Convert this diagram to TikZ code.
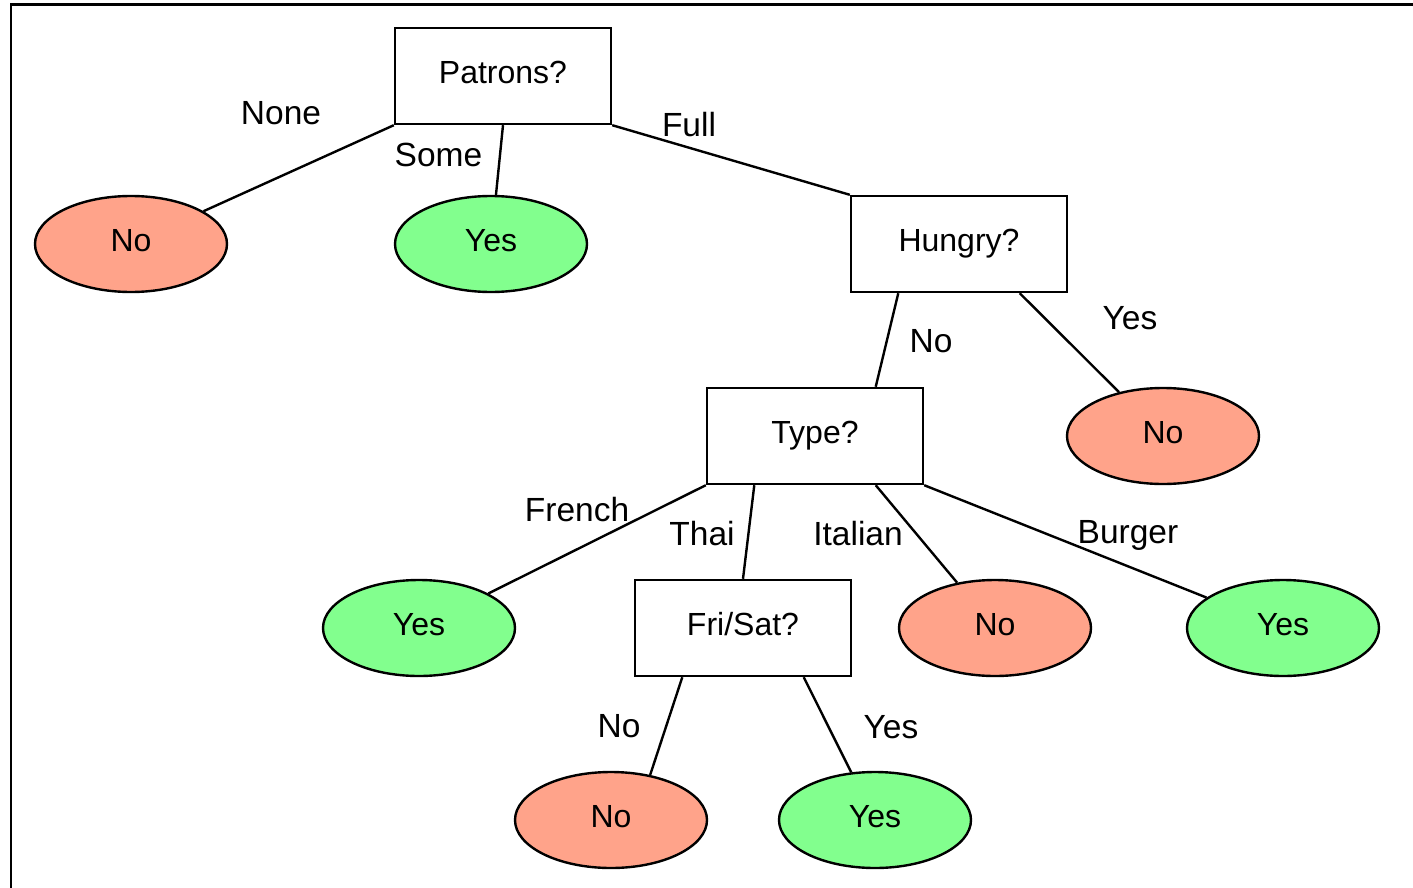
\documentclass[tikz,border=0pt]{standalone}
\usepackage{fontspec}
\setmainfont{Liberation Sans}
\usetikzlibrary{shapes.geometric,calc}
\definecolor{nocol}{HTML}{FFA38A}
\definecolor{yescol}{HTML}{82FF8E}
\begin{document}
\begin{tikzpicture}[x=1pt,y=-1pt,line width=2.4pt,
    test/.style={rectangle,draw,minimum width=216pt,minimum height=96pt,inner sep=0pt,
        font=\fontsize{32}{38}\selectfont,text height=23pt,text depth=7.5pt},
    leaf/.style={ellipse,draw,minimum width=192pt,minimum height=96pt,inner sep=0pt,
        font=\fontsize{32}{38}\selectfont,text height=23pt,text depth=7.5pt},
    leafno/.style={leaf,fill=nocol},
    leafyes/.style={leaf,fill=yescol},
    lbl/.style={inner sep=0pt,font=\fontsize{33.5}{40}\selectfont,text height=24pt,text depth=0pt}]
        \useasboundingbox (0,0) rectangle (1413,888);
        \draw[line width=2.6pt] (11,890) -- (11,4.5) -- (1415,4.5);

        \draw (503,76) node[test] (pat) {Patrons?};
        \draw (959,244) node[test] (hun) {Hungry?};
        \draw (815,436) node[test] (typ) {Type?};
        \draw (743,628) node[test] (fri) {Fri/Sat?};

        \draw (131,244) node[leafno] (none) {No};
        \draw (491,244) node[leafyes] (some) {Yes};
        \draw (1163,436) node[leafno] (hunyes) {No};
        \draw (419,628) node[leafyes] (french) {Yes};
        \draw (995,628) node[leafno] (italian) {No};
        \draw (1283,628) node[leafyes] (burger) {Yes};
        \draw (611,820) node[leafno] (frino) {No};
        \draw (875,820) node[leafyes] (friyes) {Yes};

        \draw (pat.south west) -- (none);
        \draw (pat.south) -- (some);
        \draw (pat.south east) -- (hun.north west);
        \draw ($(hun.south west)!.222!(hun.south east)$) -- ($(typ.north west)!.778!(typ.north east)$);
        \draw ($(hun.south west)!.778!(hun.south east)$) -- (hunyes);
        \draw (typ.south west) -- (french);
        \draw ($(typ.south west)!.222!(typ.south east)$) -- (fri.north);
        \draw ($(typ.south west)!.778!(typ.south east)$) -- (italian);
        \draw (typ.south east) -- (burger);
        \draw ($(fri.south west)!.222!(fri.south east)$) -- (frino.49);
        \draw ($(fri.south west)!.778!(fri.south east)$) -- (friyes);

        \draw (281,112.5) node[lbl] (lnone) {None};
        \draw (438.5,154.5) node[lbl] (lsome) {Some};
        \draw (689,125) node[lbl] (lfull) {Full};
        \draw (931,340.5) node[lbl] (lhunno) {No};
        \draw (1130,317) node[lbl] (lhunyes) {Yes};
        \draw (577,509.5) node[lbl] (lfrench) {French};
        \draw (702,533.5) node[lbl] (lthai) {Thai};
        \draw (858,533.5) node[lbl] (litalian) {Italian};
        \draw (1128,531) node[lbl] (lburger) {Burger};
        \draw (619,725) node[lbl] (lfrino) {No};
        \draw (891,726) node[lbl] (lfriyes) {Yes};
    \end{tikzpicture}
\end{document}
